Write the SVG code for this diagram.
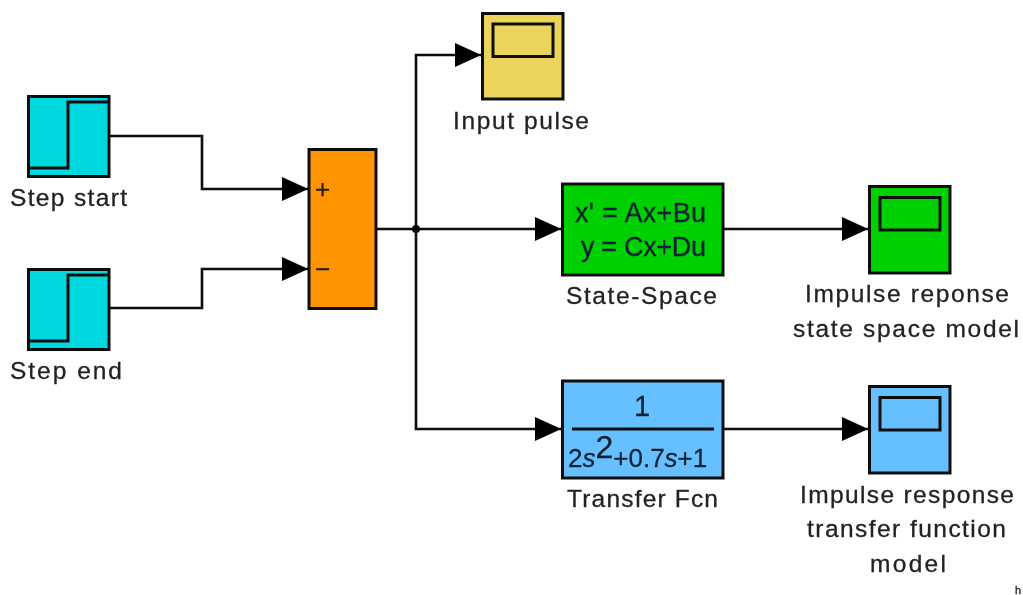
<svg xmlns="http://www.w3.org/2000/svg" width="1023" height="595" viewBox="0 0 1023 595">
<style>
.b{stroke:#111;stroke-width:3}
.i{fill:none;stroke:#111;stroke-width:3}
.w{fill:none;stroke:#111;stroke-width:2.6}
.a{fill:#000}
text{font-family:"Liberation Sans",Arial,sans-serif;font-size:24.500px;fill:#222;stroke:#222;stroke-width:.3}
.f{fill:#123;stroke:#123;font-size:27px}
.m{text-anchor:middle}
</style>
<defs>
<filter id="soft" filterUnits="userSpaceOnUse" x="0" y="0" width="1023" height="595"><feGaussianBlur stdDeviation="0.55"/></filter>
<polygon id="ah" class="a" points="-23,-12 0,-1.500 0,1.500 -23,12"/>
</defs>
<rect width="1023" height="595" fill="#fff"/>
<g filter="url(#soft)">
<g id="connectors">
<path class="w" d="M109 136H202V189H309"/>
<path class="w" d="M109 308H202V269H309"/>
<path class="w" d="M376 229H562"/>
<path class="w" d="M482 55H416V429H562"/>
<path class="w" d="M723 229H869"/>
<path class="w" d="M723 429H869"/>
<circle cx="416" cy="229" r="4" class="a"/>
<use href="#ah" x="305" y="189"/>
<use href="#ah" x="305" y="269"/>
<use href="#ah" x="478" y="55"/>
<use href="#ah" x="558" y="229"/>
<use href="#ah" x="865" y="229"/>
<use href="#ah" x="558" y="429"/>
<use href="#ah" x="865" y="429"/>
</g>
<g id="step-start">
<rect class="b" x="28.500" y="96.500" width="80.500" height="80" fill="#00d8e0"/>
<path class="i" d="M28 168H68V102H109"/>
<text x="10" y="206" textLength="117">Step start</text>
</g>
<g id="step-end">
<rect class="b" x="28.500" y="269.500" width="80.500" height="80" fill="#00d8e0"/>
<path class="i" d="M28 341H68V275H109"/>
<text x="10" y="379" textLength="112">Step end</text>
</g>
<g id="sum">
<rect class="b" x="309" y="149.500" width="67" height="159" fill="#ff9400"/>
<text x="315" y="198" textLength="15" style="font-size:26px">+</text>
<text x="315" y="278" textLength="15" style="font-size:26px">−</text>
</g>
<g id="input-pulse">
<rect class="b" x="482.500" y="13.500" width="80.500" height="85.500" fill="#ecd45c"/>
<rect class="i" x="493" y="24" width="60" height="32.500"/>
<text x="453" y="129" textLength="136">Input pulse</text>
</g>
<g id="state-space">
<rect class="b" x="562.500" y="184" width="160.500" height="91" fill="#00d000"/>
<text class="f" x="575" y="222" textLength="131">x' = Ax+Bu</text>
<text class="f" x="581" y="256" textLength="125">y = Cx+Du</text>
<text x="566" y="304" textLength="151">State-Space</text>
</g>
<g id="scope-state-space">
<rect class="b" x="869.500" y="186.500" width="80.500" height="86.500" fill="#00d000"/>
<rect class="i" x="880" y="197.500" width="60" height="32.500"/>
<text x="805" y="302" textLength="204">Impulse reponse</text>
<text x="793" y="337" textLength="226">state space model</text>
</g>
<g id="transfer-fcn">
<rect class="b" x="562.500" y="381" width="160.500" height="97" fill="#66c0ff"/>
<path class="i" d="M572 429H714"/>
<text class="f m" x="642" y="416" style="font-size:29px">1</text>
<text class="f" x="568" y="467" style="font-size:26px">2<tspan font-style="italic">s</tspan><tspan dy="-9" style="font-size:32px">2</tspan><tspan dy="9">+0.7</tspan><tspan font-style="italic">s</tspan>+1</text>
<text x="567" y="507" textLength="151">Transfer Fcn</text>
</g>
<g id="scope-transfer-fcn">
<rect class="b" x="869.500" y="386.500" width="80.500" height="86.500" fill="#66c0ff"/>
<rect class="i" x="880" y="397.500" width="60" height="32.500"/>
<text x="800" y="503" textLength="214">Impulse response</text>
<text x="807" y="537" textLength="199">transfer function</text>
<text x="870" y="572" textLength="76">model</text>
</g>
<text x="1015" y="594" style="font-size:11px">h</text>
</g>
</svg>
